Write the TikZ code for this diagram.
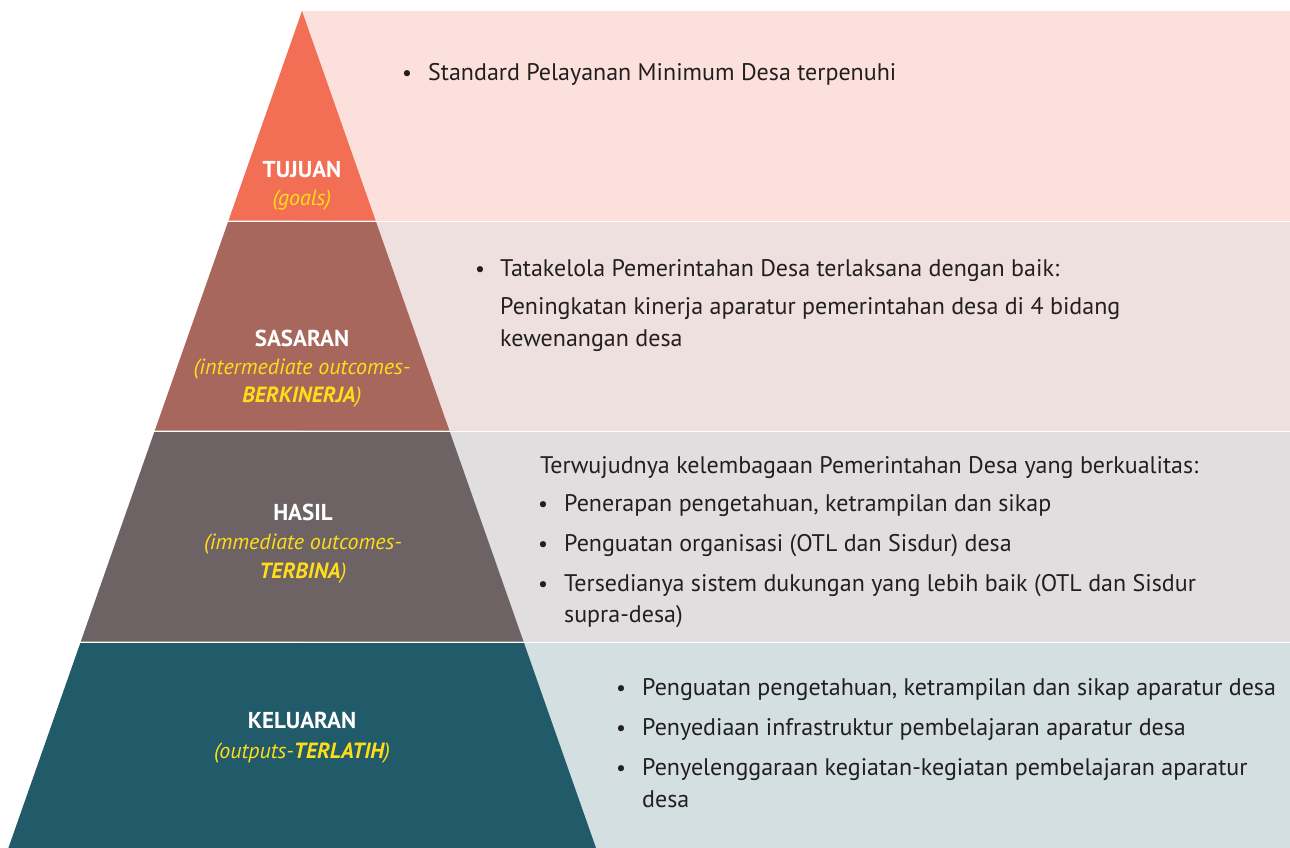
\documentclass[tikz,border=0pt]{standalone}
\usepackage{fontspec}
\setmainfont{PT Sans}
\definecolor{tujuanC}{HTML}{F26E54}
\definecolor{sasaranC}{HTML}{A8675C}
\definecolor{hasilC}{HTML}{6D6264}
\definecolor{keluaranC}{HTML}{215A68}
\definecolor{tujuanP}{HTML}{FBE0DB}
\definecolor{sasaranP}{HTML}{EDE0DF}
\definecolor{hasilP}{HTML}{E1DEDF}
\definecolor{keluaranP}{HTML}{D3DFE0}
\definecolor{labelY}{HTML}{FFDD1A}
\definecolor{bodyT}{HTML}{231F20}
\tikzset{
  title/.style={anchor=base, text=white, font=\fontsize{23}{26}\selectfont\bfseries, inner sep=0pt},
  sub/.style={anchor=base, text=labelY, font=\fontsize{22}{25}\selectfont\itshape, inner sep=0pt},
  line/.style={anchor=base west, text=bodyT, font=\fontsize{24}{28}\selectfont, inner sep=0pt},
  dot/.style={anchor=base, text=bodyT, font=\fontsize{22}{28}\selectfont, inner sep=0pt},
}
\begin{document}
\begin{tikzpicture}[x=1pt,y=-1pt]
\useasboundingbox (0,0) rectangle (1290,848);
\fill[white] (0,0) rectangle (1290,848);
% side panels
\fill[tujuanP]   (302,11)  rectangle (1290,220.5);
\fill[sasaranP]  (302,222) rectangle (1290,430.5);
\fill[hasilP]    (302,432) rectangle (1290,641.5);
\fill[keluaranP] (302,643) rectangle (1290,848);
% pyramid bands
\fill[tujuanC]   (302,11) -- (375.6,220.5) -- (228.5,220.5) -- cycle;
\fill[sasaranC]  (228.0,222) -- (376.1,222) -- (449.4,430.5) -- (154.8,430.5) -- cycle;
\fill[hasilC]    (154.3,432) -- (449.9,432) -- (523.5,641.5) -- (80.8,641.5) -- cycle;
\fill[keluaranC] (80.3,643) -- (524.0,643) -- (596.0,848) -- (8.4,848) -- cycle;

% pyramid labels
\node[title] (t1) at (302,177) {TUJUAN};
\node[sub]   (t1s) at (302,205) {(goals)};
\node[title] (t2) at (302,346) {SASARAN};
\node[sub]   (t2s) at (302,374) {(intermediate outcomes-};
\node[sub]   (t2t) at (302,402) {\bfseries BERKINERJA\mdseries)};
\node[title] (t3) at (303,520) {HASIL};
\node[sub]   (t3s) at (303,549) {(immediate outcomes-};
\node[sub]   (t3t) at (303,578) {\bfseries TERBINA\mdseries)};
\node[title] (t4) at (302,728) {KELUARAN};
\node[sub]   (t4s) at (302,758) {(outputs-\bfseries TERLATIH\mdseries)};

% tujuan text
\node[dot]  (b1) at (407,81) {•};
\node[line] (l1) at (428,81) {Standard Pelayanan Minimum Desa terpenuhi};
% sasaran text
\node[dot]  (b2) at (480,276) {•};
\node[line] (l2a) at (500,276) {Tatakelola Pemerintahan Desa terlaksana dengan baik:};
\node[line] (l2b) at (500,314) {Peningkatan kinerja aparatur pemerintahan desa di 4 bidang};
\node[line] (l2c) at (500,346) {kewenangan desa};
% hasil text
\node[line] (l3a) at (540,473) {Terwujudnya kelembagaan Pemerintahan Desa yang berkualitas:};
\node[dot]  (b3a) at (543,511) {•};
\node[line] (l3b) at (564,511) {Penerapan pengetahuan, ketrampilan dan sikap};
\node[dot]  (b3b) at (543,551) {•};
\node[line] (l3c) at (564,551) {Penguatan organisasi (OTL dan Sisdur) desa};
\node[dot]  (b3c) at (543,591) {•};
\node[line] (l3d) at (564,591) {Tersedianya sistem dukungan yang lebih baik (OTL dan Sisdur};
\node[line] (l3e) at (564,622) {supra-desa)};
% keluaran text
\node[dot]  (b4a) at (621,695) {•};
\node[line] (l4a) at (642,695) {Penguatan pengetahuan, ketrampilan dan sikap aparatur desa};
\node[dot]  (b4b) at (621,735) {•};
\node[line] (l4b) at (642,735) {Penyediaan infrastruktur pembelajaran aparatur desa};
\node[dot]  (b4c) at (621,775) {•};
\node[line] (l4c) at (642,775) {Penyelenggaraan kegiatan-kegiatan pembelajaran aparatur};
\node[line] (l4d) at (642,807) {desa};
\end{tikzpicture}
\end{document}
